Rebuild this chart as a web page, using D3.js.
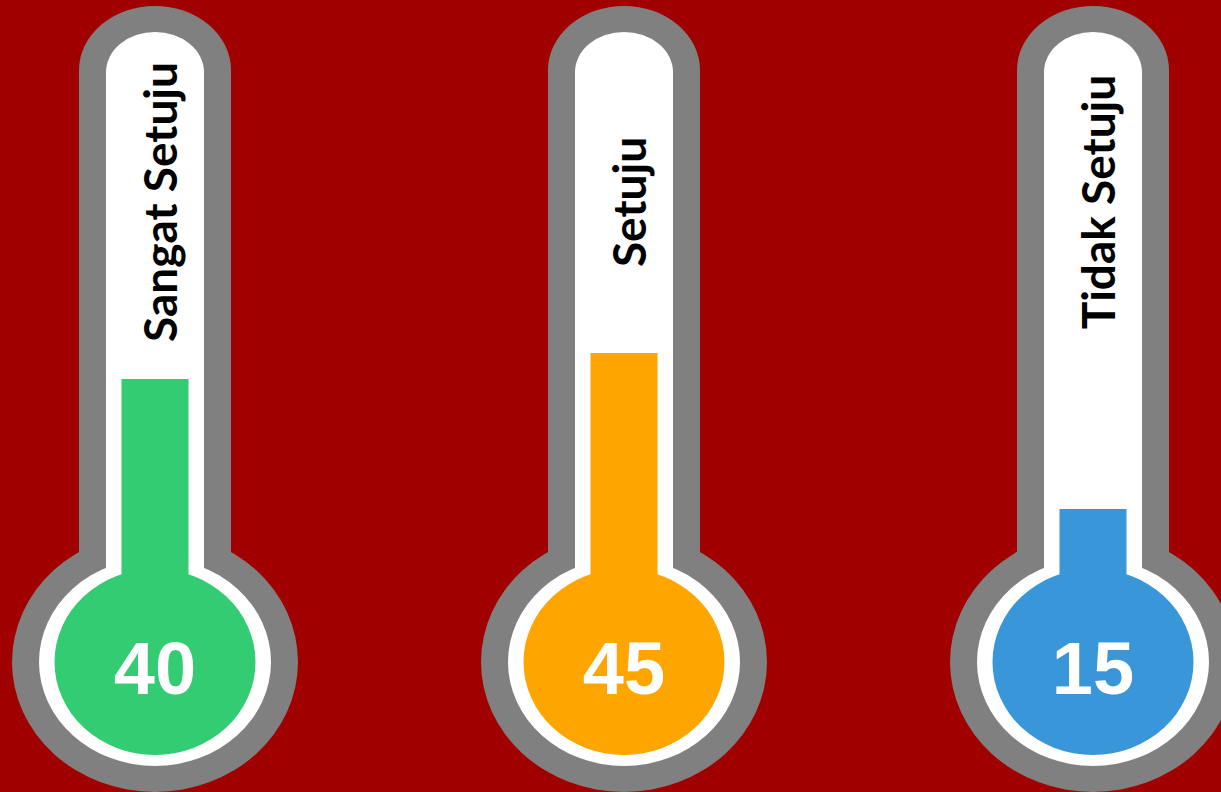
<!DOCTYPE html>
<html>
<head>
<meta charset="utf-8">
<script src="https://cdn.jsdelivr.net/npm/d3@7"></script>
<style>
	html, body { margin: 0; padding: 0; background: #a00000; overflow: hidden; }
</style>
</head>
<body>
<div id="chart"></div>
<script>
const categories = ["Sangat Setuju", "Setuju", "Tidak Setuju"];
const values = [40, 45, 15];
const fillColors = ["#33cc73", "#ffa500", "#3896d9"];

const width = 1221;
const height = 792;

const svg = d3.select("#chart").append("svg")
	.attr("width", width)
	.attr("height", height)
	.style("display", "block");

svg.append("rect")
	.attr("width", width)
	.attr("height", height)
	.style("fill", "#a00000");

// centre of each thermometer
const x = d3.scalePoint()
	.domain(categories)
	.range([155, 1093]);

// level of the liquid in the tube
const y = d3.scaleLinear()
	.domain([0, 100])
	.range([587, 67]);

const bulbY = 662;

// tube with an elliptic rounded top, from top down to the bulb centre
function tubePath(cx, halfW, top, capH) {
	return `
		M ${cx - halfW}, ${bulbY}
		V ${top + capH}
		A ${halfW},${capH} 0 0 1 ${cx + halfW},${top + capH}
		V ${bulbY}
		Z
	`;
}

const thermo = svg.selectAll("g.thermo")
	.data(categories)
	.join("g")
	.attr("class", "thermo");

// grey outline
thermo.append("path")
	.attr("d", d => tubePath(x(d), 76, 6, 64))
	.style("fill", "#808080");
thermo.append("ellipse")
	.attr("cx", d => x(d))
	.attr("cy", bulbY)
	.attr("rx", 143)
	.attr("ry", 130)
	.style("fill", "#808080");

// white glass
thermo.append("path")
	.attr("d", d => tubePath(x(d), 49, 32, 40))
	.style("fill", "#ffffff");
thermo.append("ellipse")
	.attr("cx", d => x(d))
	.attr("cy", bulbY)
	.attr("rx", 116)
	.attr("ry", 104)
	.style("fill", "#ffffff");

// liquid
thermo.append("rect")
	.attr("x", d => x(d) - 33.5)
	.attr("y", (d, i) => y(values[i]))
	.attr("width", 67)
	.attr("height", (d, i) => bulbY - y(values[i]))
	.style("fill", (d, i) => fillColors[i]);
thermo.append("ellipse")
	.attr("cx", d => x(d))
	.attr("cy", bulbY)
	.attr("rx", 100.5)
	.attr("ry", 93)
	.style("fill", (d, i) => fillColors[i]);

// value in the bulb
thermo.append("text")
	.attr("x", d => x(d))
	.attr("y", 694)
	.attr("text-anchor", "middle")
	.text((d, i) => values[i])
	.style("fill", "#ffffff")
	.style("font-family", "Liberation Sans, Arial, sans-serif")
	.style("font-size", "74px")
	.style("font-weight", "bold");

// category label, written up the tube
thermo.append("text")
	.attr("transform", d => `translate(${x(d) + 22}, 202) rotate(-90)`)
	.attr("text-anchor", "middle")
	.text(d => d)
	.style("fill", "#000000")
	.style("font-family", "Lato, sans-serif")
	.style("font-size", "46px")
	.style("font-weight", "bold");
</script>
</body>
</html>
